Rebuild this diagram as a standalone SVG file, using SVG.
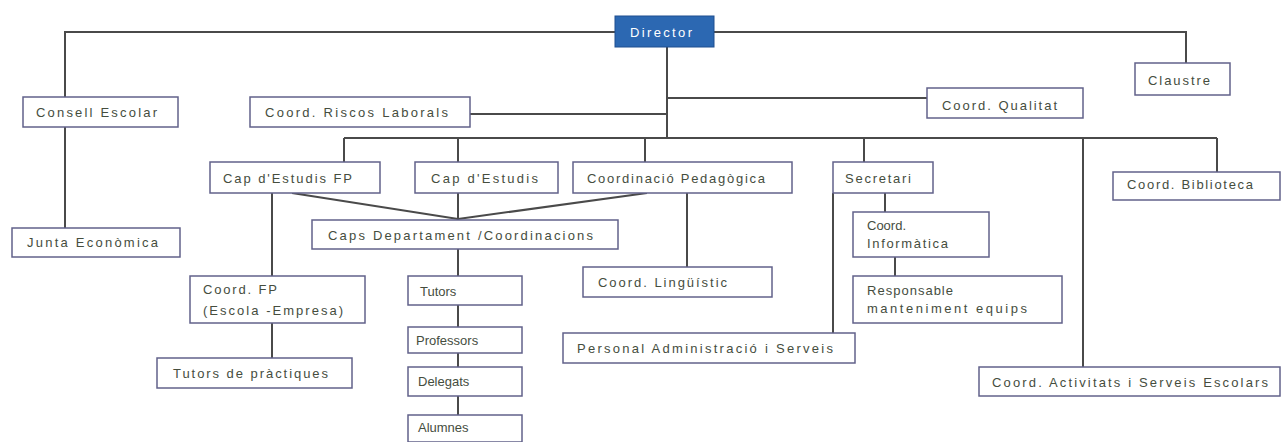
<svg xmlns="http://www.w3.org/2000/svg" width="1282" height="442" viewBox="0 0 1282 442">
<style>
.b{fill:#fff;stroke:#62628a;stroke-width:1.5}
.t{font-family:"Liberation Sans",Arial,sans-serif;font-size:13px;fill:#454d3e}
.w{font-family:"Liberation Sans",Arial,sans-serif;font-size:13px;fill:#fff}
.c{fill:none;stroke:#4a4a4a;stroke-width:2}
</style>
<rect width="1282" height="442" fill="#fff"/>
<g id="connectors">
<polyline class="c" points="615,32 65,32 65,97"/>
<polyline class="c" points="714,32 1186,32 1186,63"/>
<line class="c" x1="65" y1="127" x2="65" y2="228"/>
<line class="c" x1="667" y1="47" x2="667" y2="138"/>
<line class="c" x1="470" y1="114" x2="667" y2="114"/>
<line class="c" x1="667" y1="98" x2="927" y2="98"/>
<line class="c" x1="344" y1="138" x2="1217" y2="138"/>
<line class="c" x1="344" y1="138" x2="344" y2="162"/>
<line class="c" x1="458" y1="138" x2="458" y2="162"/>
<line class="c" x1="645" y1="138" x2="645" y2="162"/>
<line class="c" x1="864" y1="138" x2="864" y2="162"/>
<line class="c" x1="1083" y1="138" x2="1083" y2="367"/>
<line class="c" x1="1217" y1="138" x2="1217" y2="172"/>
<polyline class="c" points="292,193 458,219 647,193"/>
<line class="c" x1="458" y1="193" x2="458" y2="220"/>
<line class="c" x1="272" y1="193" x2="272" y2="276"/>
<line class="c" x1="272" y1="323" x2="272" y2="358"/>
<line class="c" x1="458" y1="249" x2="458" y2="415"/>
<line class="c" x1="687" y1="193" x2="687" y2="267"/>
<line class="c" x1="833" y1="193" x2="833" y2="333"/>
<line class="c" x1="885" y1="193" x2="885" y2="212"/>
<line class="c" x1="895" y1="257" x2="895" y2="276"/>
</g>
<g id="director"><rect x="615" y="16" width="99" height="31" fill="#2c68b2" stroke="#1f4f8f" stroke-width="1"/><text class="w" x="630" y="37" textLength="62" lengthAdjust="spacing">Director</text></g>
<g id="consell"><rect class="b" x="23" y="97" width="155" height="30"/><text class="t" x="36" y="117" textLength="121" lengthAdjust="spacing">Consell  Escolar</text></g>
<g id="riscos"><rect class="b" x="250" y="97" width="220" height="30"/><text class="t" x="265" y="117" textLength="183" lengthAdjust="spacing">Coord. Riscos  Laborals</text></g>
<g id="qualitat"><rect class="b" x="927" y="88" width="156" height="30"/><text class="t" x="942" y="110" textLength="115" lengthAdjust="spacing">Coord.  Qualitat</text></g>
<g id="claustre"><rect class="b" x="1135" y="63" width="95" height="32"/><text class="t" x="1148" y="85" textLength="62" lengthAdjust="spacing">Claustre</text></g>
<g id="junta"><rect class="b" x="12" y="228" width="168" height="29"/><text class="t" x="27" y="247" textLength="131" lengthAdjust="spacing">Junta Econòmica</text></g>
<g id="capfp"><rect class="b" x="210" y="162" width="170" height="31"/><text class="t" x="223" y="183" textLength="129" lengthAdjust="spacing">Cap d'Estudis FP</text></g>
<g id="cap"><rect class="b" x="415" y="162" width="143" height="31"/><text class="t" x="431" y="183" textLength="107" lengthAdjust="spacing">Cap d'Estudis</text></g>
<g id="pedagogica"><rect class="b" x="573" y="162" width="219" height="31"/><text class="t" x="587" y="183" textLength="178" lengthAdjust="spacing">Coordinació  Pedagògica</text></g>
<g id="secretari"><rect class="b" x="833" y="162" width="100" height="31"/><text class="t" x="845" y="183" textLength="66" lengthAdjust="spacing">Secretari</text></g>
<g id="biblioteca"><rect class="b" x="1113" y="172" width="167" height="28"/><text class="t" x="1127" y="189" textLength="126" lengthAdjust="spacing">Coord. Biblioteca</text></g>
<g id="caps"><rect class="b" x="312" y="220" width="306" height="29"/><text class="t" x="328" y="240" textLength="265" lengthAdjust="spacing">Caps Departament  /Coordinacions</text></g>
<g id="coordfp"><rect class="b" x="190" y="276" width="175" height="47"/><text class="t" x="203" y="294" textLength="74" lengthAdjust="spacing">Coord. FP</text><text class="t" x="203" y="315" textLength="140" lengthAdjust="spacing">(Escola -Empresa)</text></g>
<g id="tutorspract"><rect class="b" x="157" y="358" width="195" height="30"/><text class="t" x="173" y="378" textLength="155" lengthAdjust="spacing">Tutors  de  pràctiques</text></g>
<g id="tutors"><rect class="b" x="408" y="276" width="114" height="29"/><text class="t" x="420" y="296">Tutors</text></g>
<g id="professors"><rect class="b" x="408" y="327" width="114" height="26"/><text class="t" x="416" y="345">Professors</text></g>
<g id="delegats"><rect class="b" x="408" y="367" width="114" height="29"/><text class="t" x="418" y="386">Delegats</text></g>
<g id="alumnes"><rect class="b" x="408" y="415" width="114" height="27"/><text class="t" x="418" y="432">Alumnes</text></g>
<g id="linguistic"><rect class="b" x="583" y="267" width="189" height="30"/><text class="t" x="598" y="287" textLength="129" lengthAdjust="spacing">Coord.  Lingüístic</text></g>
<g id="pas"><rect class="b" x="563" y="333" width="292" height="30"/><text class="t" x="577" y="353" textLength="256" lengthAdjust="spacing">Personal  Administració  i  Serveis</text></g>
<g id="informatica"><rect class="b" x="853" y="212" width="136" height="45"/><text class="t" x="867" y="230">Coord.</text><text class="t" x="867" y="248" textLength="81" lengthAdjust="spacing">Informàtica</text></g>
<g id="manteniment"><rect class="b" x="853" y="276" width="209" height="47"/><text class="t" x="867" y="295" textLength="86" lengthAdjust="spacing">Responsable</text><text class="t" x="867" y="313" textLength="160" lengthAdjust="spacing">manteniment   equips</text></g>
<g id="activitats"><rect class="b" x="979" y="367" width="301" height="29"/><text class="t" x="992" y="387" textLength="276" lengthAdjust="spacing">Coord.   Activitats  i Serveis  Escolars</text></g>
</svg>
